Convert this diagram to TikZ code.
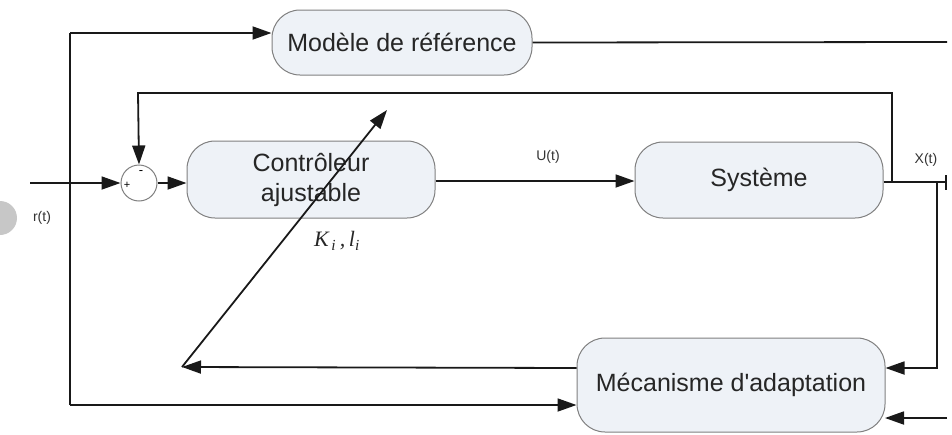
\documentclass[tikz,border=0pt]{standalone}
\usepackage{fontspec}
\setmainfont{Liberation Sans}[Ligatures=TeXOff]
\newfontfamily\labelserif{Liberation Serif}
\usetikzlibrary{arrows.meta}
\definecolor{boxfill}{HTML}{EEF2F7}
\definecolor{boxline}{HTML}{808080}
\begin{document}
\begin{tikzpicture}[x=1pt,y=-1pt,
  blk/.style={draw=boxline,line width=1pt,fill=boxfill,rounded corners=28pt,
    minimum width=#1,inner sep=0pt,align=center,text=black!85,
    font=\fontsize{25}{30}\selectfont},
  sumnode/.style={draw=boxline,line width=1pt,circle,minimum size=36pt,inner sep=0pt,fill=white},
  wire/.style={line width=1.8pt,black!90},
  arr/.style={wire,-{Triangle[length=19pt,width=13pt]}},
  small/.style={font=\fontsize{14}{14}\selectfont,text=black!80}
]
\useasboundingbox (0,0) rectangle (952,434);
% gray artifact at left edge
\begin{scope}
\clip (0,190) rectangle (30,250);
\fill[black!22] (0,218) circle[radius=17pt];
\end{scope}

% blocks
\node[blk=260pt,minimum height=65pt] (model) at (402,42.5) {Modèle de référence};
\node[blk=248pt,minimum height=77pt] (ctrl) at (311,179.5) {Contrôleur\\ajustable};
\node[blk=248pt,minimum height=76pt] (sys) at (759,180) {Système};
\node[blk=308pt,minimum height=94pt] (mec) at (731,385) {Mécanisme d'adaptation};
\node[sumnode] (sum) at (139,183) {};
\node[font=\fontsize{13}{13}\selectfont] (minus) at (141,173) {-};
\node[font=\fontsize{11}{11}\selectfont] (plus) at (127,185) {+};

% coordinates
\coordinate (in) at (30,183);
\coordinate (l1) at (70,33);
\coordinate (l2) at (70,405);
\coordinate (mout) at (947,42);
\coordinate (jx) at (892,182);
\coordinate (f1) at (892,93);
\coordinate (f2) at (138,93);
\coordinate (xend) at (946,182);
\coordinate (tk1) at (946,175);
\coordinate (tk2) at (946,190);
\coordinate (v1) at (937,182);
\coordinate (v2) at (937,368);
\coordinate (e2) at (947,418);
\coordinate (e2t) at (885,418);
\coordinate (dstart) at (182,367);
\coordinate (dtip) at (387,110);

% connectors
\draw[arr] (in) -- (sum.west);
\draw[arr] (sum.east) -- (sum.east -| ctrl.west);
\draw[arr] (ctrl.east |- 0,181) -- (sys.west |- 0,181);
\draw[wire] (l2) -- (l1);
\draw[arr] (l1) -- (l1 -| model.west);
\draw[arr] (l2) -- (l2 -| mec.west);
\draw[wire] (model.east) -- (mout);
\draw[wire] (sys.east |- jx) -- (xend);
\draw[wire] (tk1) -- (tk2);
\draw[arr] (jx) -- (f1) -- (f2) -- (sum.north);
\draw[arr] (v1) -- (v2) -- (v2 -| mec.east);
\draw[arr] (e2) -- (e2t);
\draw[arr] (mec.west |- 0,368) -- (dstart);
\draw[arr] (dstart) -- (dtip);

% labels
\node[small] (ulab) at (548,157) {U(t)};
\node[small] (xlab) at (926,160) {X(t)};
\node[small] (rlab) at (42,218) {r(t)};
\node[font=\fontsize{22}{22}\selectfont\labelserif\itshape,text=black!85] (klab) at (337,241) {K\textsubscript{\,i}\,,\,l\textsubscript{i}};
\end{tikzpicture}
\end{document}
